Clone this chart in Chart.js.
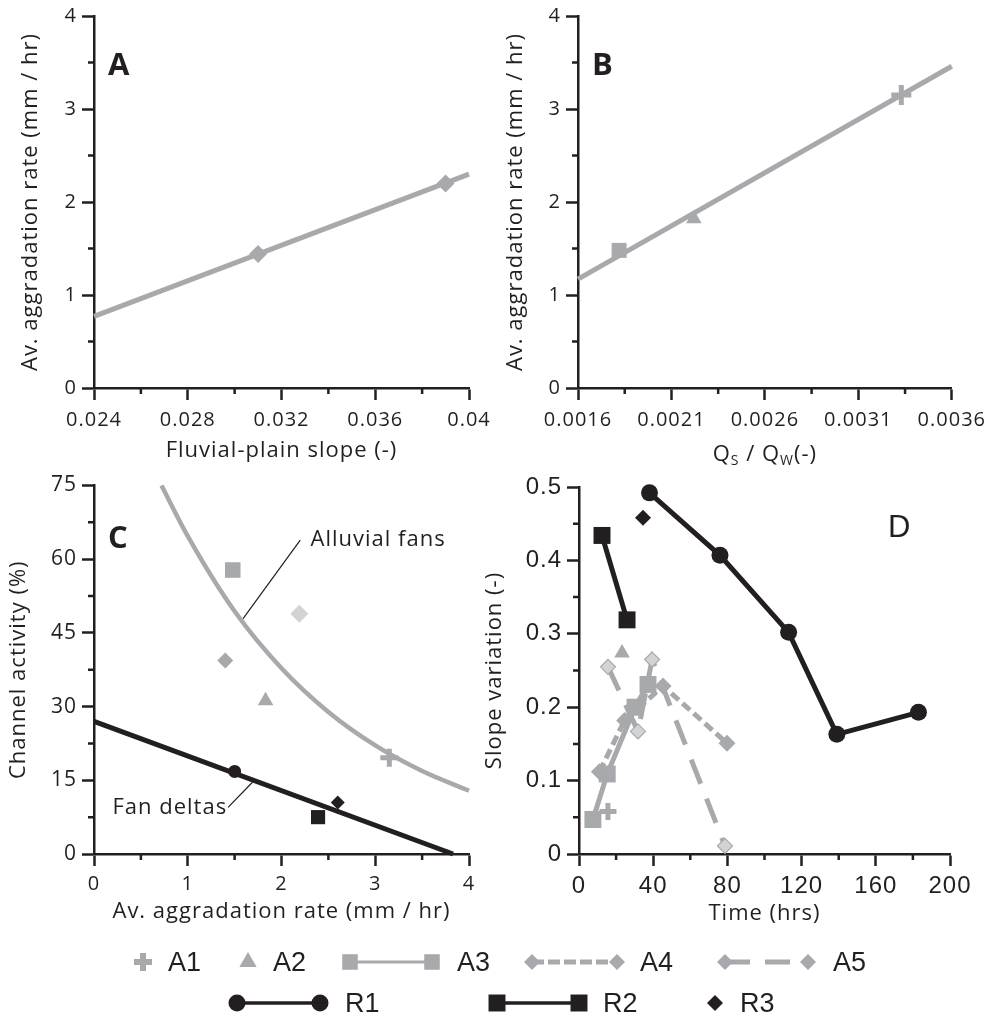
<!DOCTYPE html>
<html>
<head>
<meta charset="utf-8">
<script src="https://cdn.jsdelivr.net/npm/chart.js@4.4.1/dist/chart.umd.min.js"></script>
<style>
  body { margin: 0; background: #fff; }
  #page { position: relative; width: 993px; height: 1017px; overflow: hidden; background: #fff; }
  #page canvas { position: absolute; }
  .lg { position: absolute; font: 27px "Liberation Sans", Arial, sans-serif; line-height: 30px; color: #231f20; white-space: nowrap; }
</style>
</head>
<body>
<div id="page">
  <canvas id="panelA" width="500" height="470" style="left:0;top:0"></canvas>
  <canvas id="panelB" width="523" height="470" style="left:470px;top:0"></canvas>
  <canvas id="panelC" width="500" height="470" style="left:0;top:470px"></canvas>
  <canvas id="panelD" width="523" height="470" style="left:470px;top:470px"></canvas>
  <canvas id="legend" width="993" height="87" style="left:0;top:930px"></canvas>
</div>
<script>
const INK = '#231f20';
const GREY = '#a7a9ac';
const LIGHT = '#d1d3d4';
const MYR = '"Open Sans", "Noto Sans", sans-serif';
const HEL = '"Liberation Sans", Arial, sans-serif';

// ---- A: aggradation rate vs fluvial-plain slope
const slopeFitX = [0.024, 0.04];
const slopeFitRate = [0.77, 2.3];
const slopeRunX = [0.031, 0.039];
const slopeRunRate = [1.44, 2.2];
const slopeTicks = [0.024, 0.028, 0.032, 0.036, 0.04];
const slopeTickLabels = ['0.024', '0.028', '0.032', '0.036', '0.04'];
const slopeMinor = [0.026, 0.03, 0.034, 0.038];
const rateTicks = [0, 1, 2, 3, 4];
const rateTickLabels = ['0', '1', '2', '3', '4'];
const rateMinor = [0.5, 1.5, 2.5, 3.5];

// ---- B: aggradation rate vs Qs/Qw
const qFitX = [0.0016, 0.0036];
const qFitRate = [1.17, 3.46];
const qA1 = [0.00333], qA1Rate = [3.15];
const qA2 = [0.00222], qA2Rate = [1.82];
const qA3 = [0.00182], qA3Rate = [1.48];
const qTicks = [0.0016, 0.0021, 0.0026, 0.0031, 0.0036];
const qTickLabels = ['0.0016', '0.0021', '0.0026', '0.0031', '0.0036'];
const qMinor = [0.00185, 0.00235, 0.00285, 0.00335];

// ---- C: channel activity vs aggradation rate
const fanCurveRate = [0.72, 1, 1.5, 2, 2.5, 3, 3.5, 4];
const fanCurveActivity = [75, 64.7, 49.4, 37.8, 28.9, 22.1, 16.9, 12.9];
const deltaLineRate = [0, 3.83];
const deltaLineActivity = [27, 0];
const cA1Rate = [3.15], cA1Act = [19.6];
const cA2Rate = [1.83], cA2Act = [31.2];
const cA3Rate = [1.48], cA3Act = [57.8];
const cA4Rate = [1.4], cA4Act = [39.4];
const cA5Rate = [2.19], cA5Act = [48.9];
const cR1Rate = [1.5], cR1Act = [16.8];
const cR2Rate = [2.39], cR2Act = [7.5];
const cR3Rate = [2.6], cR3Act = [10.5];
const fanLeaderRate = [2.2, 1.59], fanLeaderAct = [63.9, 47.9];
const deltaLeaderRate = [1.43, 1.69], deltaLeaderAct = [9.5, 14.6];
const activityTicks = [0, 15, 30, 45, 60, 75];
const activityTickLabels = ['0', '15', '30', '45', '60', '75'];
const activityMinor = [7.5, 22.5, 37.5, 52.5, 67.5];
const rateAxisTicks = [0, 1, 2, 3, 4];
const rateAxisLabels = ['0', '1', '2', '3', '4'];
const rateAxisMinor = [0.5, 1.5, 2.5, 3.5];

// ---- D: slope variation vs time
const timeR1 = [38, 76, 113, 139, 183], slopeR1 = [0.492, 0.407, 0.302, 0.163, 0.193];
const timeR2 = [12.4, 25.9], slopeR2 = [0.434, 0.319];
const timeR3 = [34.5], slopeR3 = [0.458];
const timeA1 = [15.6], slopeA1 = [0.058];
const timeA2 = [23.2], slopeA2 = [0.274];
const timeA3 = [7.5, 15.2, 30.2, 37.2], slopeA3 = [0.047, 0.109, 0.2, 0.231];
const timeA4 = [11, 24.6, 45.3, 79.8], slopeA4 = [0.112, 0.182, 0.229, 0.151];
const timeA5 = [15.6, 31.8, 39.4, 78.7], slopeA5 = [0.255, 0.167, 0.265, 0.011];
const timeTicks = [0, 40, 80, 120, 160, 200];
const timeTickLabels = ['0', '40', '80', '120', '160', '200'];
const timeMinor = [20, 60, 100, 140, 180];
const varTicks = [0, 0.1, 0.2, 0.3, 0.4, 0.5];
const varTickLabels = ['0', '0.1', '0.2', '0.3', '0.4', '0.5'];
const varMinor = [0.05, 0.15, 0.25, 0.35, 0.45];

const xy = (xs, ys) => xs.map((x, i) => ({x: x, y: ys[i]}));

// marker looks per run
function mark(run, r) {
  const m = {
    A1: {pointStyle: 'cross', pointBorderWidth: 5, pointBorderColor: GREY, pointBackgroundColor: GREY},
    A2: {pointStyle: 'triangle', pointBorderWidth: 0, pointBackgroundColor: GREY},
    A3: {pointStyle: 'rect', pointBorderWidth: 0, pointBackgroundColor: GREY},
    A4: {pointStyle: 'rectRot', pointBorderWidth: 0, pointBackgroundColor: GREY},
    A5: {pointStyle: 'rectRot', pointBorderWidth: 1.2, pointBorderColor: GREY, pointBackgroundColor: LIGHT},
    R1: {pointStyle: 'circle', pointBorderWidth: 0, pointBackgroundColor: INK},
    R2: {pointStyle: 'rect', pointBorderWidth: 0, pointBackgroundColor: INK},
    R3: {pointStyle: 'rectRot', pointBorderWidth: 0, pointBackgroundColor: INK}
  }[run];
  return Object.assign({pointRadius: r, pointHoverRadius: r, showLine: false, clip: false}, m);
}

function line(color, width, dash) {
  return {showLine: true, borderColor: color, borderWidth: width, borderDash: dash || [], pointRadius: 0, pointHoverRadius: 0, clip: false};
}

function axis(o) {
  return {
    type: 'linear', min: o.min, max: o.max,
    afterBuildTicks: s => { s.ticks = o.ticks.map(v => ({value: v})); },
    afterFit: s => { if (o.w) s.width = o.w; if (o.h) s.height = o.h; },
    border: {display: true, color: INK, width: 2.5},
    grid: {display: true, drawOnChartArea: false, drawTicks: true, tickLength: 12, tickWidth: 2.5, tickColor: INK},
    ticks: {color: INK, font: o.font, padding: o.pad, autoSkip: false, maxRotation: 0, callback: (v, i) => o.labels[i]},
    title: o.title ? {display: true, text: o.title, color: INK, font: {family: MYR, size: 22, lineHeight: 1.2}, padding: o.titlePad} : {display: false}
  };
}

// per-chart extras: minor ticks, panel letter, curve labels, subscript title
function decor(ex) {
  return {
    id: 'decor',
    beforeDraw(chart) { chart.ctx.letterSpacing = '1px'; },
    afterDatasetsDraw(chart) {
      const {ctx, chartArea: a, scales: {x, y}} = chart;
      ctx.save();
      ctx.fillStyle = INK; ctx.textBaseline = 'middle';
      (ex.items || []).forEach(it => {
        ctx.font = it.font; ctx.textAlign = it.align || 'left';
        const px = it.at ? x.getPixelForValue(it.at[0]) : a.left + it.dx;
        const py = it.at ? y.getPixelForValue(it.at[1]) : a.top + it.dy;
        ctx.fillText(it.text, px, py);
      });
      if (ex.parts) {
        ctx.textAlign = 'left'; ctx.textBaseline = 'alphabetic';
        let w = 0;
        ex.parts.forEach(p => { ctx.font = p.font; w += ctx.measureText(p.text).width; });
        let px = (a.left + a.right) / 2 - w / 2;
        ex.parts.forEach(p => {
          ctx.font = p.font;
          ctx.fillText(p.text, px, a.bottom + ex.partsDy + (p.drop || 0));
          px += ctx.measureText(p.text).width;
        });
      }
      ctx.restore();
    },
    afterDraw(chart) {
      const {ctx, scales: {x, y}} = chart;
      ctx.save();
      ctx.strokeStyle = INK; ctx.lineWidth = 2.5;
      ctx.beginPath();
      ex.minorX.forEach(v => { const p = x.getPixelForValue(v); ctx.moveTo(p, x.top); ctx.lineTo(p, x.top + 6); });
      ex.minorY.forEach(v => { const p = y.getPixelForValue(v); ctx.moveTo(y.right, p); ctx.lineTo(y.right - 6, p); });
      ctx.stroke();
      ctx.restore();
      ctx.letterSpacing = '0px';
    }
  };
}

function make(id, datasets, x, y, pad, ex) {
  return new Chart(document.getElementById(id), {
    type: 'scatter',
    data: {datasets: datasets},
    options: {
      responsive: false, animation: false, events: [],
      layout: {padding: pad},
      plugins: {legend: {display: false}, tooltip: {enabled: false}},
      scales: {x: x, y: y}
    },
    plugins: [decor(ex)]
  });
}

const tickFont = {family: MYR, size: 20, lineHeight: 1};
const helvTick = {family: HEL, size: 24, lineHeight: 1};
const letterFont = 'bold 31px ' + MYR;
const noteFont = '22px ' + MYR;

// A
make('panelA', [
  Object.assign({data: xy(slopeRunX, slopeRunRate)}, mark('A4', 9)),
  Object.assign({data: xy(slopeFitX, slopeFitRate)}, line(GREY, 5))
],
  axis({min: 0.024, max: 0.04, ticks: slopeTicks, labels: slopeTickLabels, font: tickFont, pad: 10, h: 82,
        title: 'Fluvial-plain slope (-)', titlePad: {top: 0, bottom: 6}}),
  axis({min: 0, max: 4, ticks: rateTicks, labels: rateTickLabels, font: tickFont, pad: 5, w: 94,
        title: 'Av. aggradation rate (mm / hr)', titlePad: {top: 18, bottom: 0}}),
  {left: 0, top: 16, right: 31, bottom: 0},
  {minorX: slopeMinor, minorY: rateMinor, items: [{text: 'A', font: letterFont, dx: 14, dy: 50}]}
);

// B
make('panelB', [
  Object.assign({data: xy(qA1, qA1Rate)}, mark('A1', 10)),
  Object.assign({data: xy(qA2, qA2Rate)}, mark('A2', 9)),
  Object.assign({data: xy(qA3, qA3Rate)}, mark('A3', 10.6)),
  Object.assign({data: xy(qFitX, qFitRate)}, line(GREY, 5))
],
  axis({min: 0.0016, max: 0.0036, ticks: qTicks, labels: qTickLabels, font: tickFont, pad: 10, h: 82}),
  axis({min: 0, max: 4, ticks: rateTicks, labels: rateTickLabels, font: tickFont, pad: 5, w: 108,
        title: 'Av. aggradation rate (mm / hr)', titlePad: {top: 33, bottom: 0}}),
  {left: 0, top: 16, right: 40, bottom: 0},
  {minorX: qMinor, minorY: rateMinor,
   items: [{text: 'B', font: letterFont, dx: 14, dy: 50}],
   partsDy: 73,
   parts: [{text: 'Q', font: '22px ' + MYR}, {text: 'S', font: '14px ' + MYR, drop: 4},
           {text: ' / Q', font: '22px ' + MYR}, {text: 'W', font: '14px ' + MYR, drop: 4},
           {text: '(-)', font: '22px ' + MYR}]}
);

// C
make('panelC', [
  Object.assign({data: xy(cR1Rate, cR1Act)}, mark('R1', 6.5)),
  Object.assign({data: xy(cR2Rate, cR2Act)}, mark('R2', 10)),
  Object.assign({data: xy(cR3Rate, cR3Act)}, mark('R3', 7)),
  Object.assign({data: xy(cA1Rate, cA1Act)}, mark('A1', 9)),
  Object.assign({data: xy(cA2Rate, cA2Act)}, mark('A2', 9)),
  Object.assign({data: xy(cA3Rate, cA3Act)}, mark('A3', 11)),
  Object.assign({data: xy(cA4Rate, cA4Act)}, mark('A4', 8)),
  Object.assign({data: xy(cA5Rate, cA5Act)}, mark('A5', 9), {pointBorderWidth: 0}),
  Object.assign({data: xy(deltaLineRate, deltaLineActivity)}, line(INK, 5)),
  Object.assign({data: xy(fanCurveRate, fanCurveActivity), tension: 0.4, cubicInterpolationMode: 'monotone'}, line(GREY, 4.5)),
  Object.assign({data: xy(fanLeaderRate, fanLeaderAct)}, line(INK, 1.2)),
  Object.assign({data: xy(deltaLeaderRate, deltaLeaderAct)}, line(INK, 1.2))
],
  axis({min: 0, max: 4, ticks: rateAxisTicks, labels: rateAxisLabels, font: tickFont, pad: 8, h: 86,
        title: 'Av. aggradation rate (mm / hr)', titlePad: {top: 0, bottom: 15}}),
  axis({min: 0, max: 75, ticks: activityTicks, labels: activityTickLabels, font: {family: MYR, size: 21, lineHeight: 1}, pad: 5, w: 94,
        title: 'Channel activity (%)', titlePad: {top: 6, bottom: 0}}),
  {left: 0, top: 13, right: 31, bottom: 0},
  {minorX: rateAxisMinor, minorY: activityMinor,
   items: [
     {text: 'C', font: letterFont, dx: 14, dy: 54},
     {text: 'Alluvial fans', font: noteFont, at: [2.31, 63.9]},
     {text: 'Fan deltas', font: noteFont, at: [1.42, 9.5], align: 'right'}
   ]}
);

// D
make('panelD', [
  Object.assign({data: xy(timeR1, slopeR1)}, mark('R1', 8.5), line(INK, 5), {pointRadius: 8.5}),
  Object.assign({data: xy(timeR2, slopeR2)}, mark('R2', 12), line(INK, 5), {pointRadius: 12}),
  Object.assign({data: xy(timeR3, slopeR3)}, mark('R3', 8)),
  Object.assign({data: xy(timeA5, slopeA5)}, mark('A5', 7.5), line(GREY, 5, [26, 16]), {pointRadius: 7.5}),
  Object.assign({data: xy(timeA1, slopeA1)}, mark('A1', 8.5)),
  Object.assign({data: xy(timeA2, slopeA2)}, mark('A2', 9)),
  Object.assign({data: xy(timeA4, slopeA4)}, mark('A4', 8.5), line(GREY, 5, [10, 5]), {pointRadius: 8.5}),
  Object.assign({data: xy(timeA3, slopeA3)}, mark('A3', 12), line(GREY, 5), {pointRadius: 12})
],
  axis({min: 0, max: 200, ticks: timeTicks, labels: timeTickLabels, font: helvTick, pad: 8, h: 86,
        title: 'Time (hrs)', titlePad: {top: 0, bottom: 13}}),
  axis({min: 0, max: 0.5, ticks: varTicks, labels: varTickLabels, font: helvTick, pad: 5, w: 109,
        title: 'Slope variation (-)', titlePad: {top: 12, bottom: 0}}),
  {left: 0, top: 13, right: 43, bottom: 0},
  {minorX: timeMinor, minorY: varMinor, items: [{text: 'D', font: '31px ' + HEL, dx: 309, dy: 41}]}
);

// ---- legend (key entries, not data)
const legendItems = [
  {run: 'A1', marks: [143], text: 168, row: 0, r: 9},
  {run: 'A2', marks: [248], text: 273, row: 0, r: 10},
  {run: 'A3', marks: [350, 432], text: 457, row: 0, r: 11, color: GREY, width: 3},
  {run: 'A4', marks: [532, 617], text: 640, row: 0, r: 8, color: GREY, width: 5, dash: [12, 4]},
  {run: 'A5', marks: [725, 808], text: 833, row: 0, r: 8, color: GREY, width: 5, dash: [25, 15]},
  {run: 'R1', marks: [237, 320], text: 345, row: 1, r: 8.5, color: INK, width: 3.5},
  {run: 'R2', marks: [497, 579], text: 603, row: 1, r: 12, color: INK, width: 3.5},
  {run: 'R3', marks: [715], text: 740, row: 1, r: 8}
];
const rowY = [32, 73];
const lctx = document.getElementById('legend').getContext('2d');
legendItems.forEach(it => {
  const y = rowY[it.row];
  if (it.marks.length > 1) {
    lctx.save();
    lctx.strokeStyle = it.color; lctx.lineWidth = it.width; lctx.setLineDash(it.dash || []);
    lctx.beginPath(); lctx.moveTo(it.marks[0], y); lctx.lineTo(it.marks[1], y); lctx.stroke();
    lctx.restore();
  }
  const m = mark(it.run, it.r);
  it.marks.forEach(x => {
    lctx.save();
    lctx.fillStyle = it.run === 'A5' ? GREY : m.pointBackgroundColor;
    lctx.strokeStyle = m.pointBorderColor || m.pointBackgroundColor;
    lctx.lineWidth = it.run === 'A1' ? 6 : 0;
    Chart.helpers.drawPoint(lctx, {pointStyle: m.pointStyle, radius: it.r, rotation: 0, borderWidth: it.run === 'A1' ? 6 : 0}, x, y);
    lctx.restore();
  });
  const s = document.createElement('div');
  s.className = 'lg';
  s.textContent = it.run;
  s.style.left = it.text + 'px';
  s.style.top = (930 + y - 15) + 'px';
  document.getElementById('page').appendChild(s);
});
</script>
</body>
</html>
